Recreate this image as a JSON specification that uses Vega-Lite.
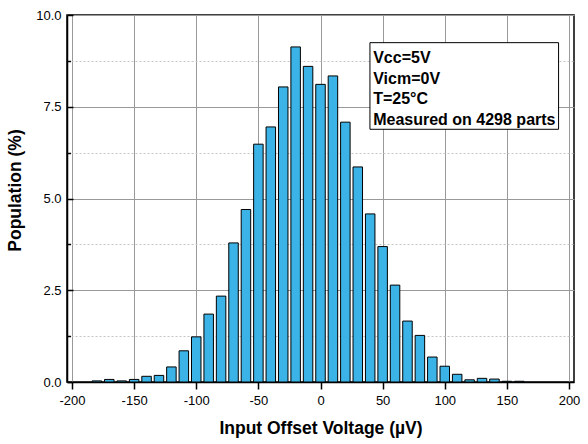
{
  "$schema": "https://vega.github.io/schema/vega-lite/v6.json",
  "width": 507,
  "height": 367,
  "autosize": {"type": "none"},
  "padding": {"left": 67, "top": 15, "right": 14, "bottom": 62},
  "background": "white",
  "config": {
    "view": {"stroke": "black", "strokeWidth": 1.5},
    "font": "Liberation Sans",
    "axis": {
      "domainColor": "black",
      "domainWidth": 1.5,
      "tickColor": "black",
      "tickWidth": 1.5,
      "labelColor": "black",
      "labelFont": "Liberation Sans",
      "labelFontSize": 13,
      "titleFont": "Liberation Sans",
      "titleFontWeight": "bold",
      "titleColor": "black",
      "gridWidth": 1
    }
  },
  "layer": [
    {
      "data": {
        "values": [
          {"v": -180, "p": 0.03},
          {"v": -170, "p": 0.07},
          {"v": -160, "p": 0.03},
          {"v": -150, "p": 0.07},
          {"v": -140, "p": 0.155},
          {"v": -130, "p": 0.18},
          {"v": -120, "p": 0.41},
          {"v": -110, "p": 0.85},
          {"v": -100, "p": 1.23},
          {"v": -90, "p": 1.85},
          {"v": -80, "p": 2.34},
          {"v": -70, "p": 3.79},
          {"v": -60, "p": 4.7},
          {"v": -50, "p": 6.48},
          {"v": -40, "p": 6.95},
          {"v": -30, "p": 8.04},
          {"v": -20, "p": 9.13},
          {"v": -10, "p": 8.6},
          {"v": 0, "p": 8.11},
          {"v": 10, "p": 8.34},
          {"v": 20, "p": 7.08},
          {"v": 30, "p": 5.86},
          {"v": 40, "p": 4.58},
          {"v": 50, "p": 3.69},
          {"v": 60, "p": 2.64},
          {"v": 70, "p": 1.66},
          {"v": 80, "p": 1.27},
          {"v": 90, "p": 0.68},
          {"v": 100, "p": 0.43},
          {"v": 110, "p": 0.21},
          {"v": 120, "p": 0.06},
          {"v": 130, "p": 0.1},
          {"v": 140, "p": 0.08},
          {"v": 150, "p": 0.02},
          {"v": 160, "p": 0.02}
        ]
      },
      "mark": {"type": "bar", "size": 9.5, "fill": "#3bb3e6", "stroke": "black", "strokeWidth": 1},
      "encoding": {
        "x": {
          "field": "v",
          "type": "quantitative",
          "scale": {"domain": [-200, 200], "nice": false},
          "axis": {
            "title": "Input Offset Voltage (µV)",
            "titleFontSize": 17.5,
            "values": [-200, -175, -150, -125, -100, -75, -50, -25, 0, 25, 50, 75, 100, 125, 150, 175, 200],
            "labelExpr": "datum.value % 50 === 0 ? '' + datum.value : ''",
            "labelPadding": 5,
            "tickSize": {"condition": {"test": "datum.value % 50 !== 0", "value": 4}, "value": 7},
            "grid": true,
            "gridColor": "#999999",
            "gridOpacity": {"condition": {"test": "datum.value % 50 !== 0", "value": 0}, "value": 1},
            "titlePadding": 12.5
          }
        },
        "y": {
          "field": "p",
          "type": "quantitative",
          "scale": {"domain": [0, 10], "nice": false},
          "axis": {
            "title": "Population (%)",
            "titleFontSize": 17.5,
            "titleY": 175,
            "values": [0, 1.25, 2.5, 3.75, 5, 6.25, 7.5, 8.75, 10],
            "labelExpr": "datum.value % 2.5 === 0 ? format(datum.value, '.1f') : ''",
            "tickSize": {"condition": {"test": "datum.value % 2.5 !== 0", "value": -3.5}, "value": -6},
            "labelPadding": 12,
            "grid": true,
            "gridColor": {"condition": {"test": "datum.value % 2.5 !== 0", "value": "#c4c4c4"}, "value": "#999999"},
            "gridDash": {"condition": {"test": "datum.value % 2.5 !== 0", "value": [2, 2]}, "value": []},
            "titlePadding": 11
          }
        }
      }
    },
    {
      "data": {"values": [{}]},
      "mark": {"type": "rect", "fill": "white", "stroke": "black", "strokeWidth": 1},
      "encoding": {
        "x": {"datum": 39.8},
        "x2": {"datum": 191.6},
        "y": {"datum": 9.246},
        "y2": {"datum": 6.886}
      }
    },
    {
      "data": {"values": [{}]},
      "mark": {
        "type": "text",
        "align": "left",
        "baseline": "alphabetic",
        "font": "Liberation Sans",
        "fontSize": 16,
        "fontWeight": "bold",
        "lineHeight": 20.7,
        "color": "black"
      },
      "encoding": {
        "x": {"datum": 42.4},
        "y": {"datum": 8.69},
        "text": {"value": ["Vcc=5V", "Vicm=0V", "T=25°C", "Measured on 4298 parts"]}
      }
    }
  ]
}
